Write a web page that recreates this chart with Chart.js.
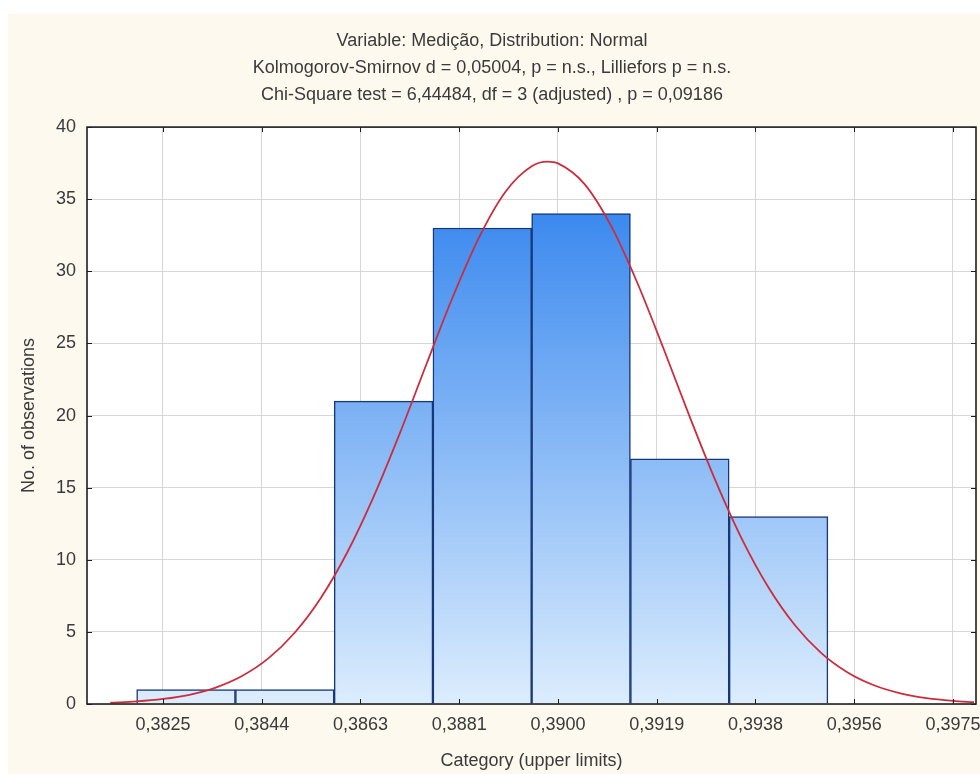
<!DOCTYPE html>
<html>
<head>
<meta charset="utf-8">
<title>Histogram: Medição</title>
<script src="https://cdn.jsdelivr.net/npm/chart.js@4.4.1/dist/chart.umd.min.js"></script>
<style>
    html, body { margin: 0; padding: 0; background: #ffffff; }
    #wrap { position: relative; width: 980px; height: 774px; overflow: hidden; }
    #chart { position: absolute; left: 0; top: 0; }
</style>
</head>
<body>
<div id="wrap"><canvas id="chart" width="1010" height="774"></canvas></div>
<script>
// Histogram of Medição with the fitted normal curve
const titleLines = [
    'Variable: Medição, Distribution: Normal',
    'Kolmogorov-Smirnov d = 0,05004, p = n.s., Lilliefors p = n.s.',
    'Chi-Square test = 6,44484, df = 3 (adjusted) , p = 0,09186'
];

// class boundaries and observed counts
const binEdges = [0.38200, 0.383875, 0.38575, 0.387625, 0.38950, 0.391375, 0.39325, 0.395125];
const binCounts = [1, 1, 21, 33, 34, 17, 13];

// x axis ticks (category upper limits)
const tickValues = [0.3825, 0.384375, 0.38625, 0.388125, 0.3900, 0.391875, 0.39375, 0.395625, 0.3975];
const tickLabels = ['0,3825', '0,3844', '0,3863', '0,3881', '0,3900', '0,3919', '0,3938', '0,3956', '0,3975'];
const xMin = 0.381057;
const xMax = 0.397937;

// expected counts along the normal curve
const curveX = [0.3815, 0.3820, 0.3825, 0.3830, 0.3835, 0.3840, 0.3845, 0.3850, 0.3855, 0.3860,
    0.3865, 0.3870, 0.3875, 0.3880, 0.3885, 0.3890, 0.3895, 0.3898, 0.3900, 0.3905, 0.3910,
    0.3915, 0.3920, 0.3925, 0.3930, 0.3935, 0.3940, 0.3945, 0.3950, 0.3955, 0.3960,
    0.3965, 0.3970, 0.3975, 0.3979];
const curveY = [0.09, 0.18, 0.35, 0.64, 1.14, 1.94, 3.16, 4.94, 7.37, 10.52,
    14.38, 18.80, 23.54, 28.20, 32.34, 35.50, 37.28, 37.60, 37.48, 36.06, 33.20,
    29.26, 24.68, 19.92, 15.40, 11.38, 8.06, 5.46, 3.53, 2.19, 1.30,
    0.74, 0.40, 0.21, 0.12];

const FONT = "'Liberation Sans', Arial, sans-serif";
const TEXT = '#3a3a3a';

const binCenters = binCounts.map((c, i) => (binEdges[i] + binEdges[i + 1]) / 2);

// cream panel behind everything, white plot area
const panelBackground = {
    id: 'panelBackground',
    beforeDraw(chart) {
        const { ctx, chartArea } = chart;
        ctx.save();
        ctx.fillStyle = '#ffffff';
        ctx.fillRect(0, 0, chart.width, chart.height);
        ctx.fillStyle = '#fdf9ee';
        ctx.fillRect(8, 14, chart.width - 8, chart.height - 14);
        ctx.fillStyle = '#ffffff';
        ctx.fillRect(chartArea.left, chartArea.top, chartArea.right - chartArea.left, chartArea.bottom - chartArea.top);
        ctx.restore();
    }
};

// box around the plot with inward tick marks
const plotFrame = {
    id: 'plotFrame',
    afterDatasetsDraw(chart) {
        const { ctx, chartArea, scales } = chart;
        const len = 5;
        ctx.save();
        ctx.strokeStyle = '#1e1e1e';
        ctx.lineWidth = 1;
        ctx.beginPath();
        scales.x.ticks.forEach((t, i) => {
            const px = Math.round(scales.x.getPixelForTick(i)) + 0.5;
            ctx.moveTo(px, chartArea.bottom);
            ctx.lineTo(px, chartArea.bottom - len);
            ctx.moveTo(px, chartArea.top);
            ctx.lineTo(px, chartArea.top + len);
        });
        scales.y.ticks.forEach((t, i) => {
            const py = Math.round(scales.y.getPixelForTick(i)) + 0.5;
            ctx.moveTo(chartArea.left, py);
            ctx.lineTo(chartArea.left + len, py);
            ctx.moveTo(chartArea.right, py);
            ctx.lineTo(chartArea.right - len, py);
        });
        ctx.stroke();
        ctx.lineWidth = 1.6;
        ctx.strokeRect(chartArea.left, chartArea.top, chartArea.right - chartArea.left, chartArea.bottom - chartArea.top);
        ctx.restore();
    }
};

function barGradient(context) {
    const area = context.chart.chartArea;
    if (!area) {
        return '#7fb5f5';
    }
    const g = context.chart.ctx.createLinearGradient(0, area.top, 0, area.bottom);
    g.addColorStop(0, '#1f78ec');
    g.addColorStop(1, '#dcedfd');
    return g;
}

new Chart(document.getElementById('chart'), {
    type: 'bar',
    data: {
        datasets: [
            {
                type: 'line',
                label: 'Normal',
                data: curveX.map((x, i) => ({ x: x, y: curveY[i] })),
                borderColor: '#cc2d3d',
                borderWidth: 1.8,
                pointRadius: 0,
                cubicInterpolationMode: 'monotone',
                order: 0
            },
            {
                type: 'bar',
                label: 'No. of observations',
                data: binCenters.map((x, i) => ({ x: x, y: binCounts[i] })),
                backgroundColor: barGradient,
                borderColor: '#173778',
                borderWidth: 1.5,
                barPercentage: 1,
                categoryPercentage: 1,
                order: 1
            }
        ]
    },
    options: {
        responsive: false,
        animation: false,
        layout: {
            padding: { left: 8, top: 14, right: 34, bottom: 0 }
        },
        plugins: {
            legend: { display: false },
            tooltip: { enabled: false },
            title: {
                display: true,
                text: titleLines,
                color: TEXT,
                font: { family: FONT, size: 18, weight: 'normal', lineHeight: 1.52 },
                padding: { top: 13, bottom: 18 }
            }
        },
        scales: {
            x: {
                type: 'linear',
                offset: false,
                min: xMin,
                max: xMax,
                afterBuildTicks: (scale) => {
                    scale.ticks = tickValues.map(v => ({ value: v }));
                },
                afterFit: (scale) => {
                    scale.height = 70;
                },
                ticks: {
                    autoSkip: false,
                    maxRotation: 0,
                    padding: 10,
                    color: TEXT,
                    font: { family: FONT, size: 18 },
                    callback: (value, index) => tickLabels[index]
                },
                grid: { color: '#d6d6d6', drawTicks: false, offset: false },
                border: { display: false },
                title: {
                    display: true,
                    text: 'Category (upper limits)',
                    color: TEXT,
                    font: { family: FONT, size: 18 },
                    padding: { top: 0, bottom: 2 }
                }
            },
            y: {
                min: 0,
                max: 40,
                afterFit: (scale) => {
                    scale.width = 79;
                },
                ticks: {
                    stepSize: 5,
                    padding: 11,
                    color: TEXT,
                    font: { family: FONT, size: 18 }
                },
                grid: { color: '#d6d6d6', drawTicks: false },
                border: { display: false },
                title: {
                    display: true,
                    text: 'No. of observations',
                    color: TEXT,
                    font: { family: FONT, size: 18 },
                    padding: { top: 10, bottom: 0 }
                }
            }
        }
    },
    plugins: [panelBackground, plotFrame]
});
</script>
</body>
</html>
